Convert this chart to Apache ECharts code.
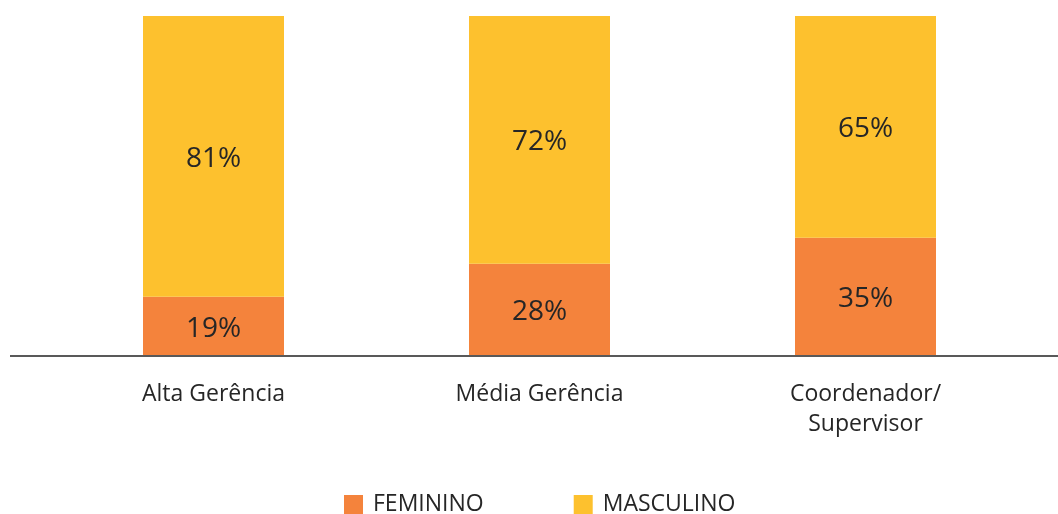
<!DOCTYPE html>
<html>
<head>
<meta charset="utf-8">
<script src="https://cdn.jsdelivr.net/npm/echarts@6/dist/echarts.min.js"></script>
<style>html,body{margin:0;padding:0;background:#fff}#c{width:1058px;height:514px}</style>
</head>
<body>
<div id="c"></div>
<script>
const categories = ['Alta Gerência', 'Média Gerência', 'Coordenador/\nSupervisor'];
const seriesNames = ['FEMININO', 'MASCULINO'];
const feminino = [17.4, 27.1, 34.8];
const masculino = [82.6, 72.9, 65.2];
const femininoLabels = ['19%', '28%', '35%'];
const masculinoLabels = ['81%', '72%', '65%'];

const FONT = '"Open Sans", sans-serif';
const TXT = '#262626';
const chart = echarts.init(document.getElementById('c'));
chart.setOption({
  animation: false,
  grid: { left: 50.5, right: 29.5, top: 16, bottom: 158, containLabel: false },
  legend: {
    data: seriesNames,
    left: 344, top: 493,
    icon: 'rect', itemWidth: 19, itemHeight: 19, itemGap: 90, padding: 0,
    textStyle: { fontFamily: FONT, fontSize: 23, color: TXT, padding: [0, 0, 0, 5] }
  },
  xAxis: {
    type: 'category', data: categories,
    axisLine: { show: false },
    axisTick: { show: false },
    axisLabel: { fontFamily: FONT, fontSize: 23, color: TXT, margin: 23, lineHeight: 30 }
  },
  yAxis: { type: 'value', min: 0, max: 100, show: false, splitLine: { show: false } },
  graphic: [{
    type: 'line', shape: { x1: 10, y1: 356, x2: 1058, y2: 356 },
    style: { stroke: '#595959', lineWidth: 2 }, z: 100
  }],
  series: [
    {
      name: seriesNames[0], type: 'bar', stack: 's', data: feminino, barWidth: 141,
      itemStyle: { color: '#F4833C' },
      label: { show: true, position: 'inside', offset: [0, 2.5], fontFamily: FONT, fontSize: 28, color: TXT,
        formatter: p => femininoLabels[p.dataIndex] }
    },
    {
      name: seriesNames[1], type: 'bar', stack: 's', data: masculino, barWidth: 141,
      itemStyle: { color: '#FDC12E' },
      label: { show: true, position: 'inside', offset: [0, 2.5], fontFamily: FONT, fontSize: 28, color: TXT,
        formatter: p => masculinoLabels[p.dataIndex] }
    }
  ]
});
</script>
</body>
</html>
